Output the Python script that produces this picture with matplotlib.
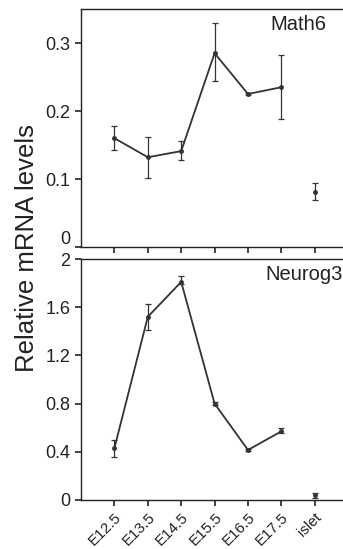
import matplotlib
matplotlib.use("Agg")
import matplotlib.pyplot as plt
import matplotlib.transforms as mtransforms
import numpy as np

plt.rcParams['font.family'] = ['Liberation Sans', 'DejaVu Sans']

categories = ["E12.5", "E13.5", "E14.5", "E15.5", "E16.5", "E17.5", "islet"]

math6 = [0.160, 0.132, 0.141, 0.285, 0.225, 0.235, 0.081]
math6_lo = [0.143, 0.101, 0.128, 0.244, 0.223, 0.188, 0.069]
math6_hi = [0.178, 0.162, 0.156, 0.329, 0.227, 0.282, 0.094]

neurog3 = [0.43, 1.52, 1.81, 0.80, 0.415, 0.57, 0.04]
neurog3_lo = [0.36, 1.41, 1.79, 0.79, 0.405, 0.555, 0.02]
neurog3_hi = [0.50, 1.63, 1.86, 0.81, 0.425, 0.595, 0.06]

math6_ticks = [0, 0.1, 0.2, 0.3]
math6_ticklabels = ["0", "0.1", "0.2", "0.3"]
neurog3_ticks = [0, 0.4, 0.8, 1.2, 1.6, 2.0]
neurog3_ticklabels = ["0", "0.4", "0.8", "1.2", "1.6", "2"]

W, H = 343, 549
fig = plt.figure(figsize=(W / 100, H / 100), dpi=100)

left = 81 / W
right = 1.0
ax1 = fig.add_axes([left, (H - 247) / H, right - left, (247 - 9) / H])
ax2 = fig.add_axes([left, (H - 500) / H, right - left, (500 - 259) / H])

x = np.arange(1, len(categories) + 1)
col = '#333333'

def draw(ax, vals, lo, hi):
    v = np.array(vals)
    yerr = np.vstack([v - np.array(lo), np.array(hi) - v])
    ax.plot(x[:6], v[:6], color=col, lw=1.3, zorder=2)
    ax.errorbar(x, v, yerr=yerr, fmt='o', ms=2.5, color=col, ecolor=col,
                elinewidth=0.9, capsize=2.5, capthick=0.9, zorder=3)
    ax.set_xlim(0, (W - 81) / 33.4)
    ax.set_xticks(x)
    ax.spines['right'].set_visible(False)
    for s in ['left', 'top', 'bottom']:
        ax.spines[s].set_linewidth(1.0)
        ax.spines[s].set_color('#222222')
    ax.tick_params(axis='both', direction='out', length=4, width=1.2,
                   colors='#222222', labelsize=13)

draw(ax1, math6, math6_lo, math6_hi)
ax1.set_ylim(0, 0.35)
ax1.set_yticks(math6_ticks)
ax1.set_yticklabels(math6_ticklabels)
ax1.set_xticklabels([])
# lift the "0" label slightly so it clears the lower panel's "2"
lab0 = ax1.get_yticklabels()[0]
lab0.set_transform(lab0.get_transform() +
                   mtransforms.ScaledTranslation(0, 9 / 100, fig.dpi_scale_trans))
ax1.text(270 / W, 1 - 25 / H, "Math6", transform=fig.transFigure, fontsize=14.5,
         ha='left', va='center', color='#222222')

draw(ax2, neurog3, neurog3_lo, neurog3_hi)
ax2.set_ylim(0, 2.0)
ax2.set_yticks(neurog3_ticks)
ax2.set_yticklabels(neurog3_ticklabels)
ax2.set_xticklabels(categories, rotation=45, ha='right', rotation_mode='anchor',
                    fontsize=11)
ax2.tick_params(axis='x', pad=3)
ax2.text(265 / W, 1 - 275 / H, "Neurog3", transform=fig.transFigure, fontsize=14.5,
         ha='left', va='center', color='#222222')

fig.text(27 / W, (H - 248) / H, "Relative mRNA levels", rotation=90,
         ha='center', va='center', fontsize=18.5, color='#222222')

fig.savefig("out.png", dpi=100)
